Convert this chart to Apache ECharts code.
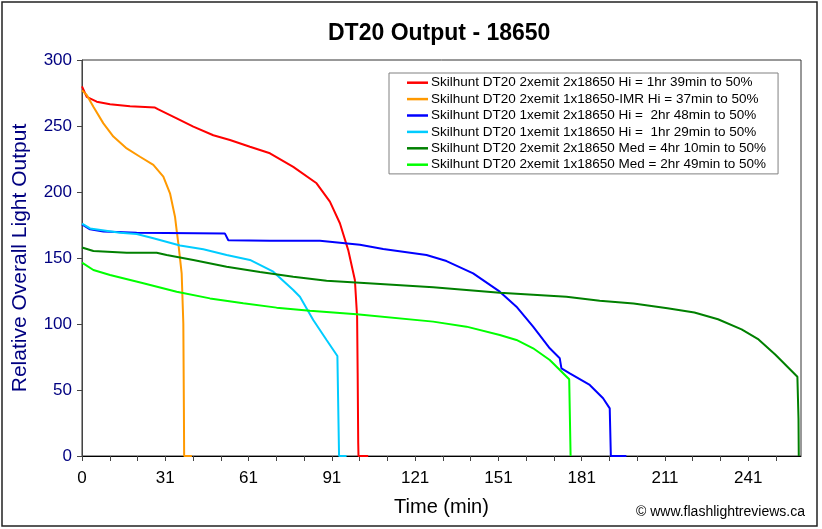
<!DOCTYPE html>
<html>
<head>
<meta charset="utf-8">
<script src="https://cdn.jsdelivr.net/npm/echarts@6/dist/echarts.min.js"></script>
<style>
html,body{margin:0;padding:0;background:#fff;}
#chart{width:822px;height:529px;}
</style>
</head>
<body>
<div id="chart"></div>
<script>
// ---- data (x: minutes on the chart's axis scale, y: relative output) ----
const xTickLabels = ['0','31','61','91','121','151','181','211','241'];
const seriesNames = [
  'Skilhunt DT20 2xemit 2x18650 Hi = 1hr 39min to 50%',
  'Skilhunt DT20 2xemit 1x18650-IMR Hi = 37min to 50%',
  'Skilhunt DT20 1xemit 2x18650 Hi =  2hr 48min to 50%',
  'Skilhunt DT20 1xemit 1x18650 Hi =  1hr 29min to 50%',
  'Skilhunt DT20 2xemit 2x18650 Med = 4hr 10min to 50%',
  'Skilhunt DT20 2xemit 1x18650 Med = 2hr 49min to 50%'
];
const seriesColors = ['#FF0000','#FF9900','#0000FF','#00CCFF','#008000','#00FF00'];

const red2xemit2cellHi = [[0,280],[1.7,272],[5.3,268.4],[10.1,266.4],[17.3,265],[26.3,264],[27.5,262.6],[34.1,255.8],[40.1,249.5],[47.3,243],[53.3,239.4],[60.5,234.3],[67.7,229.3],[76.1,219],[84.5,206.6],[89.3,192.7],[92.9,176.3],[95.9,156],[98.3,133.3],[99.1,105.5],[99.3,62.8],[99.5,10],[99.6,0],[103.1,0]];
const orange2xemitImrHi = [[0,277],[1.7,273.5],[4.1,264.6],[7.7,252],[11.3,242],[16.1,233],[20.9,226.7],[25.7,220.5],[29.3,211.6],[31.7,199],[33.5,181.3],[34.1,171],[34.7,161],[35.9,138.4],[36.5,100.5],[36.7,37],[36.8,0],[39.6,0]];
const blue1xemit2cellHi = [[0,175.5],[2.9,171.7],[7.7,170],[19.7,169.2],[51.5,168.5],[52.7,163.5],[67.7,163],[85.7,163],[100.1,160],[108.5,156.8],[124.1,152.3],[131.3,147.7],[140.9,138.4],[150.5,124.5],[156.5,113.1],[162.5,98],[168.5,81.6],[172.1,74],[172.7,66.4],[175.7,62.6],[182.9,53.8],[187.7,43.7],[190.1,36.1],[190.5,0],[196.1,0]];
const cyan1xemit1cellHi = [[0,176],[2.9,172.4],[13.7,169.2],[19.7,168.2],[25.7,164.9],[35.3,159.5],[43.7,156.6],[52.1,152.3],[60.5,148.5],[68.9,139.6],[76.1,125.8],[78.5,120.7],[83.3,103],[88.1,87.9],[92.0,75.8],[92.6,0],[95.3,0]];
const dkgreen2xemit2cellMed = [[0,158],[4.1,155.3],[16.1,154],[26.9,154],[30.5,152.3],[40.1,148.5],[52.1,143.4],[64.1,139.4],[76.1,135.8],[88.1,132.8],[100.1,131.3],[126.5,127.8],[150.5,123.7],[174.5,120.7],[186.5,117.6],[198.7,115.6],[210.9,112],[220.6,108.7],[229.1,103.6],[237.6,95.9],[243.7,88.3],[249.8,76.7],[257.7,60.1],[258.1,28],[258.2,0]];
const ltgreen2xemit1cellMed = [[0,146.5],[4.1,140.9],[10.1,137.1],[22.1,130.8],[34.1,124.5],[46.1,119.4],[58.1,115.7],[70.1,112.4],[82.1,110.1],[98.9,107.3],[126.5,101.8],[138.5,98],[150.5,91.7],[156.5,87.9],[162.5,81.6],[168.5,72.7],[175.5,58.1],[176,0]];

const seriesData = [red2xemit2cellHi, orange2xemitImrHi, blue1xemit2cellHi, cyan1xemit1cellHi, dkgreen2xemit2cellMed, ltgreen2xemit1cellMed];

const FONT = 'Arial, "Liberation Sans", sans-serif';
const chart = echarts.init(document.getElementById('chart'), null, {renderer:'canvas'});
chart.setOption({
  animation: false,
  backgroundColor: '#ffffff',
  title: {
    text: 'DT20 Output - 18650',
    left: 323, top: 17,
    textStyle: {fontFamily: FONT, fontSize: 23, fontWeight: 'bold', color: '#000'}
  },
  legend: {
    orient: 'vertical',
    left: 389, top: 73,
    backgroundColor: '#fff',
    borderColor: '#808080', borderWidth: 1,
    padding: [1.5, 12, 1, 18],
    itemGap: 0,
    itemWidth: 21, itemHeight: 2.5,
    icon: 'rect',
    textStyle: {fontFamily: FONT, fontSize: 13.5, color: '#000', lineHeight: 16.4, padding: [0,0,0,-2]},
    data: seriesNames
  },
  grid: {left: 82, right: 21, top: 60, bottom: 73, show: true, borderColor: '#333', borderWidth: 1},
  xAxis: {
    type: 'value', min: 0, max: 259, interval: 10,
    name: 'Time (min)', nameLocation: 'middle', nameGap: 41,
    nameTextStyle: {fontFamily: FONT, fontSize: 20, color: '#000'},
    axisLine: {show: true, lineStyle: {color: '#000', width: 1}},
    axisTick: {show: true, length: 5, lineStyle: {color: '#444'}},
    axisLabel: {
      margin: 14, fontFamily: FONT, fontSize: 17, color: '#000',
      showMaxLabel: false,
      formatter: function (v) { return (v % 30 === 0) ? xTickLabels[v / 30] : ''; }
    },
    splitLine: {show: false}
  },
  yAxis: {
    type: 'value', min: 0, max: 300, interval: 50,
    name: 'Relative Overall Light Output', nameLocation: 'middle', nameGap: 51,
    nameTextStyle: {fontFamily: FONT, fontSize: 21, color: '#000080'},
    axisLine: {show: true, lineStyle: {color: '#444', width: 1}},
    axisTick: {show: true, length: 5, lineStyle: {color: '#444'}},
    axisLabel: {margin: 10, fontFamily: FONT, fontSize: 17, color: '#000080'},
    splitLine: {show: false}
  },
  graphic: [
    {type: 'rect', shape: {x: 2, y: 2, width: 815, height: 524}, style: {fill: 'none', stroke: '#222', lineWidth: 1.5}, silent: true, z: 100},
    {type: 'text', right: 17, top: 505, style: {text: '\u00A9 www.flashlightreviews.ca', font: '14px Arial, "Liberation Sans", sans-serif', fill: '#000'}}
  ],
  series: seriesData.map(function (d, i) {
    return {
      name: seriesNames[i], type: 'line', data: d,
      showSymbol: false, symbol: 'none',
      lineStyle: {color: seriesColors[i], width: 2},
      itemStyle: {color: seriesColors[i]},
      z: 2
    };
  })
});
</script>
</body>
</html>
